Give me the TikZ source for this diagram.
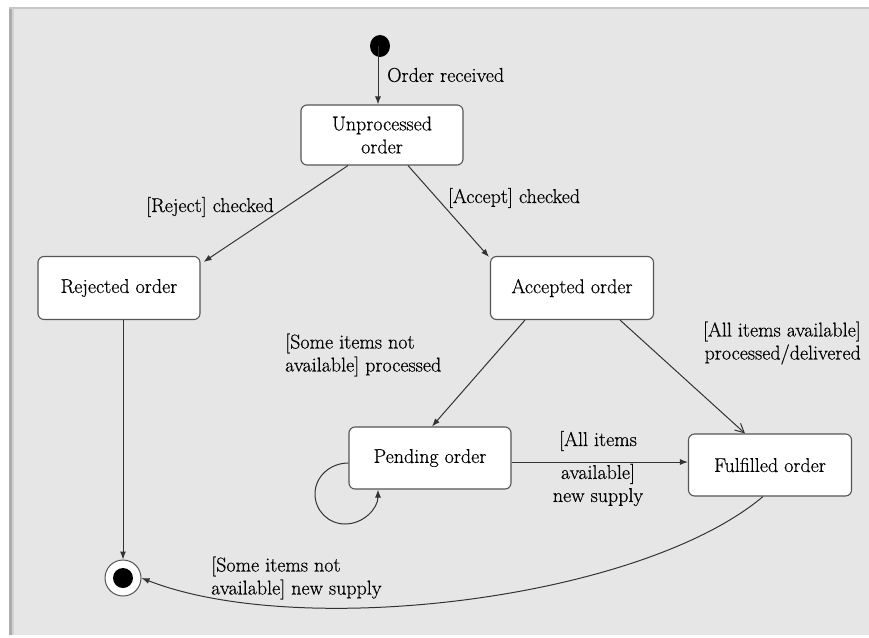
\documentclass[tikz,border=0pt]{standalone}
\usepackage{fontspec}
\newfontfamily\labfont{Latin Modern Roman}[FakeBold=0.5]
\usetikzlibrary{calc,arrows.meta}
\definecolor{bgc}{HTML}{E6E6E7}
\definecolor{linec}{HTML}{333333}
\definecolor{boxc}{HTML}{555555}
\begin{document}
\begin{tikzpicture}[x=1pt,y=-1pt,
  every node/.style={font=\labfont\fontsize{20}{23}\selectfont, text=black},
  state/.style={draw=boxc, line width=1.1pt, fill=white, rounded corners=6pt,
    inner sep=2pt, align=center},
  lab/.style={inner sep=1pt},
  conn/.style={draw=linec, line width=1pt, -{Latex[length=8pt,width=6pt]}},
  openconn/.style={draw=linec, line width=1pt, -{Straight Barb[length=9pt,width=9pt]}}]
\useasboundingbox (0,0) rectangle (869,637);
% frame
\fill[white] (0,0) rectangle (869,637);
\fill[bgc] (9,8) rectangle (869,635);
\fill[gray!65] (9,8) rectangle (12,635);
\fill[gray!35] (12,8) rectangle (14,635);
\fill[gray!45] (9,7) rectangle (869,9);
% states
\fill[black] (380,46) ellipse (10 and 11);
\coordinate (init) at (378,46);
\node[state, minimum width=162pt, minimum height=60pt] (unproc) at (382,135) {Unprocessed\\order};
\node[state, minimum width=162pt, minimum height=63pt] (rej) at (119,288) {Rejected order};
\node[state, minimum width=163pt, minimum height=63pt] (acc) at (572,288) {Accepted order};
\node[state, minimum width=162pt, minimum height=62pt] (pend) at (430,458) {Pending order};
\node[state, minimum width=163pt, minimum height=62pt] (ful) at (770,465) {Fulfilled order};
\node[circle, draw=boxc, line width=1pt, fill=white, minimum size=36pt, inner sep=0pt] (final) at (123,578) {};
\fill[black] (final.center) circle (10);
% connectors
\draw[conn] (init) -- (init |- unproc.north);
\draw[conn] ($(unproc.south)+(-34,0)$) -- ($(rej.north east)+(3,6)$);
\draw[conn] ($(unproc.south)+(26,0)$) -- ($(acc.north west)+(-1,1)$);
\draw[conn] ($(acc.south)+(-47,0)$) -- ($(pend.north)+(2,0)$);
\draw[openconn] ($(acc.south)+(48,0)$) -- ($(ful.north)+(-25,0)$);
\coordinate (pe) at ($(pend.east)+(0,4)$);
\draw[conn] (pe) -- (pe -| ful.west);
\coordinate (pw) at ($(pend.west)+(0,5)$);
\coordinate (pb) at ($(pend.south)+(-52,0)$);
\draw[conn] (pw) to[out=180,in=90] (315,494) to[out=-90,in=180] (345,524) to[out=0,in=-90] (pb);
\coordinate (rs) at (rej.south -| final);
\draw[conn] (rs) -- (final.north);
\draw[conn] ($(ful.south)+(-7,0)$) .. controls (640,600) and (300,640) .. (final.east);
% labels
\node[lab, anchor=west] (l1) at (386,75) {Order received};
\node[lab] (l2) at (210,207) {[Reject] checked};
\node[lab] (l3) at (514,198) {[Accept] checked};
\node[lab, anchor=west, align=left] (l4) at (284,355) {[Some items not\\available] processed};
\node[lab, anchor=east, align=right] (l5) at (862,343) {[All items available]\\processed/delivered};
\node[lab] (l6) at (598,441) {[All items};
\node[lab, align=center] (l7) at (598,485) {available]\\new supply};
\node[lab, anchor=west, align=left] (l8) at (210,578) {[Some items not\\available] new supply};
\end{tikzpicture}
\end{document}
